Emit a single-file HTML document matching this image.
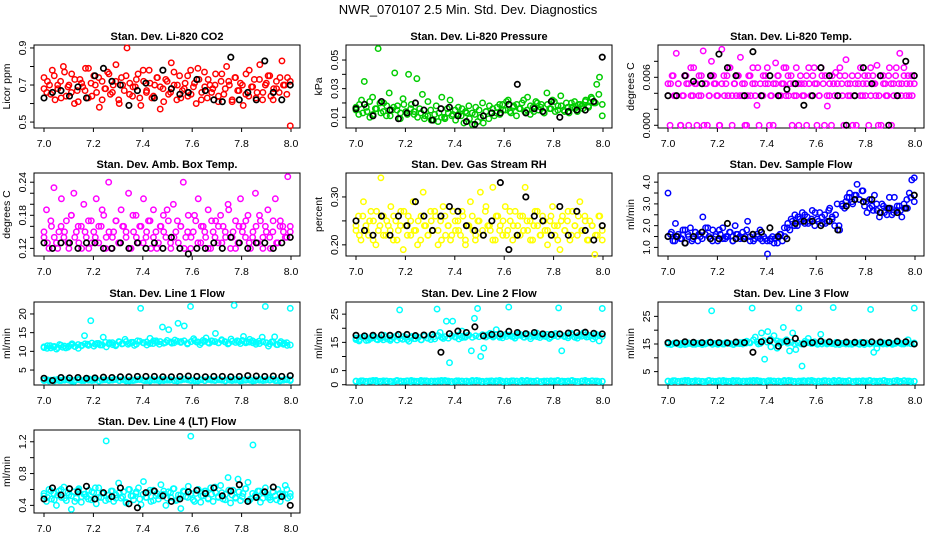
<!DOCTYPE html>
<html><head><meta charset="utf-8"><style>
html,body{margin:0;padding:0;background:#fff;}
svg{display:block;font-family:"Liberation Sans",Arial,sans-serif;}
</style></head><body>
<svg id="chart" width="936" height="540" viewBox="0 0 936 540">
<text x="468" y="14" text-anchor="middle" font-size="13">NWR_070107  2.5 Min. Std. Dev. Diagnostics</text>
</svg>
<script>
// ---- data ----
const xTicks = [7.0, 7.2, 7.4, 7.6, 7.8, 8.0];
const xTickLabels = ["7.0","7.2","7.4","7.6","7.8","8.0"];

const co2Color = [0.74,0.66,0.70,0.78,0.62,0.68,0.72,0.80,0.64,0.70,0.76,0.60,0.67,0.73,0.69,0.79,0.63,0.71,0.75,0.66,0.58,0.72,0.68,0.77,0.65,0.70,0.81,0.62,0.74,0.67,0.90,0.71,0.64,0.69,0.76,0.59,0.72,0.66,0.78,0.63,0.70,0.74,0.57,0.68,0.73,0.65,0.82,0.70,0.62,0.75,0.67,0.71,0.64,0.78,0.69,0.60,0.73,0.66,0.77,0.63,0.70,0.68,0.76,0.61,0.72,0.65,0.80,0.70,0.62,0.74,0.67,0.71,0.59,0.76,0.64,0.69,0.73,0.66,0.81,0.62,0.70,0.75,0.64,0.68,0.72,0.66,0.83,0.70,0.74,0.48];
const co2ColorB = [0.68,0.72,0.65,0.75,0.70,0.63,0.77,0.69,0.66,0.73,0.61,0.71,0.67,0.79,0.64,0.70,0.74,0.62,0.68,0.76,0.66,0.72,0.60,0.70,0.75,0.65,0.69,0.73,0.63,0.78,0.67,0.71,0.64,0.74,0.69,0.61,0.72,0.66,0.77,0.70,0.63,0.68,0.75,0.65,0.71,0.79,0.62,0.69,0.73,0.66,0.70,0.64,0.76,0.68,0.72,0.61,0.74,0.67,0.70,0.65,0.78,0.69,0.63,0.73,0.66,0.71,0.75,0.62,0.68,0.74,0.70,0.65,0.72];
const co2Black = [0.63,0.66,0.67,0.64,0.69,0.63,0.75,0.79,0.72,0.70,0.59,0.67,0.71,0.63,0.78,0.68,0.65,0.66,0.73,0.67,0.62,0.61,0.85,0.62,0.66,0.62,0.83,0.66,0.62,0.70];

const presColor = [0.017,0.012,0.022,0.035,0.014,0.010,0.024,0.016,0.058,0.013,0.020,0.011,0.027,0.015,0.041,0.018,0.009,0.023,0.014,0.040,0.019,0.012,0.037,0.016,0.026,0.011,0.021,0.015,0.008,0.018,0.013,0.024,0.010,0.016,0.022,0.012,0.008,0.017,0.011,0.006,0.013,0.009,0.005,0.012,0.007,0.010,0.006,0.014,0.009,0.013,0.011,0.017,0.012,0.019,0.015,0.022,0.013,0.018,0.011,0.016,0.020,0.014,0.024,0.012,0.017,0.021,0.015,0.019,0.013,0.027,0.016,0.022,0.014,0.018,0.025,0.015,0.020,0.013,0.017,0.021,0.014,0.019,0.016,0.022,0.018,0.024,0.020,0.033,0.038,0.011];
const presColorB = [0.015,0.019,0.013,0.017,0.021,0.012,0.016,0.020,0.014,0.018,0.011,0.017,0.015,0.013,0.019,0.012,0.016,0.014,0.010,0.013,0.009,0.011,0.008,0.012,0.007,0.010,0.009,0.013,0.011,0.015,0.012,0.016,0.014,0.018,0.013,0.017,0.015,0.020,0.014,0.018,0.016,0.013,0.019,0.015,0.021,0.014,0.017,0.019,0.016,0.022,0.015,0.018,0.014,0.020,0.017,0.013,0.019,0.016,0.021,0.015,0.018,0.014,0.017,0.020,0.016,0.019,0.018,0.021,0.017,0.023,0.020,0.026,0.019];
const presBlack = [0.016,0.019,0.011,0.021,0.015,0.009,0.013,0.020,0.015,0.008,0.016,0.017,0.011,0.007,0.005,0.011,0.013,0.013,0.019,0.033,0.013,0.016,0.014,0.021,0.010,0.014,0.015,0.015,0.021,0.052];

const tempColor = [0.0052,0.0000,0.0062,0.0037,0.0090,0.0052,0.0000,0.0037,0.0062,0.0052,0.0000,0.0072,0.0037,0.0052,0.0000,0.0062,0.0037,0.0093,0.0052,0.0000,0.0037,0.0080,0.0062,0.0052,0.0037,0.0000,0.0095,0.0062,0.0052,0.0037,0.0072,0.0000,0.0052,0.0037,0.0062,0.0085,0.0037,0.0052,0.0000,0.0062,0.0037,0.0072,0.0052,0.0025,0.0000,0.0037,0.0062,0.0052,0.0072,0.0000,0.0037,0.0052,0.0078,0.0062,0.0037,0.0052,0.0072,0.0037,0.0062,0.0052,0.0000,0.0037,0.0072,0.0052,0.0062,0.0037,0.0052,0.0000,0.0072,0.0037,0.0062,0.0052,0.0000,0.0037,0.0072,0.0052,0.0062,0.0024,0.0037,0.0000,0.0052,0.0066,0.0037,0.0062,0.0052,0.0000,0.0082,0.0037,0.0052,0.0062,0.0037,0.0000,0.0052,0.0072,0.0037,0.0062,0.0052,0.0000,0.0037,0.0062,0.0052,0.0075,0.0037,0.0000,0.0062,0.0052,0.0037,0.0072,0.0000,0.0052,0.0062,0.0037,0.0090,0.0052,0.0072,0.0037,0.0062,0.0052,0.0037,0.0062];
const tempColorB = [0.0037,0.0052,0.0062,0.0037,0.0052,0.0000,0.0037,0.0062,0.0052,0.0037,0.0072,0.0052,0.0037,0.0062,0.0000,0.0052,0.0037,0.0062,0.0052,0.0037,0.0000,0.0052,0.0037,0.0062,0.0072,0.0037,0.0052,0.0062,0.0037,0.0052,0.0000,0.0037,0.0062,0.0052,0.0037,0.0072,0.0052,0.0037,0.0062,0.0052,0.0037,0.0000,0.0052,0.0062,0.0037,0.0052,0.0072,0.0037,0.0062,0.0052,0.0037,0.0000,0.0052,0.0037,0.0062,0.0052,0.0037,0.0072,0.0052,0.0037,0.0062,0.0000,0.0037,0.0052,0.0062,0.0037,0.0052,0.0072,0.0037,0.0062,0.0052,0.0037,0.0000,0.0052,0.0062,0.0037,0.0052,0.0037,0.0062,0.0072,0.0052,0.0037,0.0000,0.0062,0.0052,0.0037,0.0062,0.0052,0.0037,0.0072,0.0052,0.0037,0.0062,0.0052,0.0037,0.0062,0.0052];
const tempBlack = [0.0037,0.0037,0.0062,0.0055,0.0052,0.0062,0.0089,0.0072,0.0062,0.0037,0.0092,0.0037,0.0062,0.0037,0.0045,0.0052,0.0025,0.0037,0.0072,0.0062,0.0037,0.0000,0.0037,0.0072,0.0052,0.0062,0.0000,0.0037,0.0080,0.0062];

const ambColor = [0.14,0.19,0.12,0.16,0.23,0.13,0.15,0.21,0.14,0.17,0.12,0.18,0.22,0.15,0.13,0.16,0.20,0.14,0.12,0.17,0.15,0.21,0.13,0.16,0.18,0.14,0.24,0.12,0.15,0.17,0.13,0.19,0.16,0.14,0.22,0.12,0.15,0.18,0.13,0.16,0.21,0.14,0.17,0.12,0.19,0.15,0.13,0.16,0.18,0.14,0.17,0.12,0.20,0.15,0.13,0.16,0.24,0.14,0.18,0.12,0.15,0.17,0.21,0.13,0.16,0.14,0.19,0.12,0.15,0.17,0.13,0.18,0.16,0.14,0.20,0.12,0.15,0.17,0.13,0.21,0.16,0.14,0.18,0.12,0.15,0.22,0.13,0.17,0.14,0.16,0.19,0.12,0.15,0.21,0.13,0.17,0.16,0.14,0.25,0.15];
const ambColorB = [0.15,0.13,0.17,0.14,0.12,0.16,0.15,0.13,0.18,0.14,0.16,0.12,0.15,0.17,0.13,0.14,0.16,0.19,0.12,0.15,0.14,0.17,0.13,0.16,0.15,0.12,0.18,0.14,0.16,0.13,0.15,0.17,0.14,0.12,0.16,0.15,0.19,0.13,0.14,0.17,0.16,0.12,0.15,0.14,0.18,0.13,0.16,0.15,0.12,0.17,0.14,0.16,0.13,0.15,0.19,0.14,0.12,0.16,0.15,0.17,0.13,0.14,0.16,0.18,0.12,0.15,0.14,0.17,0.13,0.16,0.15,0.14,0.16];
const ambBlack = [0.13,0.12,0.13,0.13,0.12,0.13,0.13,0.12,0.12,0.13,0.12,0.13,0.12,0.13,0.12,0.14,0.12,0.11,0.12,0.12,0.13,0.12,0.14,0.13,0.12,0.13,0.13,0.12,0.13,0.14];

const rhColor = [0.23,0.26,0.21,0.29,0.24,0.22,0.27,0.25,0.20,0.23,0.34,0.26,0.22,0.24,0.28,0.21,0.25,0.23,0.27,0.19,0.24,0.26,0.22,0.29,0.23,0.25,0.21,0.31,0.24,0.22,0.27,0.23,0.26,0.20,0.25,0.28,0.22,0.24,0.21,0.27,0.23,0.25,0.22,0.26,0.20,0.24,0.29,0.23,0.21,0.25,0.31,0.22,0.27,0.24,0.23,0.32,0.21,0.26,0.24,0.22,0.28,0.23,0.25,0.21,0.27,0.24,0.22,0.26,0.32,0.23,0.25,0.21,0.27,0.24,0.22,0.26,0.23,0.20,0.25,0.28,0.22,0.24,0.19,0.26,0.23,0.25,0.21,0.27,0.24,0.22,0.29,0.23,0.26,0.21,0.25,0.24,0.18,0.22,0.26,0.21];
const rhColorB = [0.24,0.22,0.26,0.23,0.25,0.21,0.27,0.24,0.22,0.25,0.23,0.26,0.21,0.24,0.27,0.22,0.25,0.23,0.20,0.26,0.24,0.22,0.25,0.27,0.23,0.21,0.26,0.24,0.22,0.25,0.23,0.27,0.21,0.24,0.26,0.22,0.25,0.23,0.28,0.24,0.21,0.26,0.23,0.25,0.22,0.27,0.24,0.22,0.26,0.23,0.25,0.21,0.24,0.27,0.22,0.25,0.23,0.26,0.24,0.21,0.25,0.23,0.27,0.22,0.24,0.26,0.23,0.25,0.21,0.24,0.22,0.26,0.23];
const rhBlack = [0.25,0.23,0.22,0.26,0.22,0.26,0.24,0.29,0.26,0.23,0.26,0.28,0.27,0.24,0.23,0.22,0.25,0.33,0.19,0.22,0.30,0.26,0.25,0.22,0.28,0.22,0.27,0.23,0.21,0.24];

const flowColor = [3.5,1.6,1.3,2.1,1.5,1.4,1.8,1.2,1.6,1.9,1.4,1.7,1.3,1.5,2.4,1.6,1.9,1.4,1.8,1.5,1.3,1.6,1.9,1.4,1.5,1.7,1.3,2.0,1.6,1.4,1.7,1.5,2.2,1.3,1.6,1.4,1.5,1.8,1.3,1.4,0.7,1.3,1.5,1.4,1.2,1.6,1.3,1.5,1.9,1.8,2.2,2.5,2.0,2.3,2.6,2.1,2.4,2.2,2.7,2.0,2.3,2.6,2.1,2.5,2.2,2.8,2.4,2.0,3.0,1.8,3.0,2.8,3.3,3.5,3.1,3.4,3.9,3.2,3.6,2.9,2.6,3.2,2.9,3.4,2.7,2.4,3.0,2.6,2.8,3.3,2.5,3.3,2.7,2.9,2.4,2.8,3.2,3.5,4.1,4.2];
const flowColorB = [1.5,1.7,1.3,1.6,1.4,1.8,1.5,1.3,1.7,1.6,1.4,1.9,1.5,1.3,1.6,1.8,1.4,1.5,1.7,1.3,1.6,1.5,1.4,1.8,1.5,1.3,1.6,1.4,1.5,1.3,1.4,1.2,1.5,1.6,1.9,2.1,2.3,2.0,2.4,2.2,2.5,2.1,2.3,2.6,2.2,2.4,2.1,2.7,2.3,2.5,2.0,2.9,3.1,3.3,3.0,3.4,3.2,3.6,3.1,2.8,2.7,3.0,2.6,2.9,2.5,2.8,2.6,2.9,2.7,3.0,2.8,3.3,3.1];
const flowBlack = [1.5,1.5,1.2,1.5,1.7,1.4,1.4,2.1,1.4,1.4,1.6,1.7,1.9,1.5,1.4,2.1,2.2,2.2,2.0,2.2,1.8,2.9,3.2,3.1,3.2,2.6,2.8,2.6,2.8,3.4];

const line1High = [11.0,10.8,11.5,11.2,10.6,11.8,11.1,10.9,11.4,12.0,11.3,10.8,11.6,14.2,11.9,18.2,11.4,12.1,11.7,13.8,11.2,12.3,11.8,11.5,12.6,12.0,13.2,11.9,12.4,11.6,12.8,21.5,12.3,11.7,13.5,12.1,12.8,11.9,16.5,12.4,15.8,12.2,13.0,17.5,12.6,16.8,12.0,22.0,13.4,12.5,11.8,12.9,13.6,12.2,12.7,14.8,12.3,13.1,12.6,12.0,13.3,22.3,12.8,12.1,14.0,12.6,13.2,12.3,11.9,12.7,13.8,22.0,11.4,12.5,13.9,11.8,12.6,12.2,11.6,21.5];
const line1HighB = [11.2,11.5,10.9,11.3,11.0,11.6,11.4,11.1,11.7,11.3,11.8,11.5,12.0,11.6,12.2,11.9,12.1,11.7,12.4,12.0,12.3,11.8,12.5,12.1,12.6,12.2,12.4,11.9,12.7,12.3,12.5,12.1,12.8,12.4,12.6,12.2,12.9,12.5,12.3,12.7,12.4,12.8,12.2,12.6,12.9,12.5,12.3,12.7,12.4,12.8,12.6,12.3,12.9,12.5,12.2,12.7,12.4,12.6,12.9,12.3,12.5,12.8,12.4,12.1,12.6,12.3,12.0,12.5,11.8,12.2,11.9,12.3,11.7];
const line1Low = [2.3,2.1,2.4,2.2,2.5,2.3,2.0,2.4,2.2,2.6,2.3,2.1,2.4,2.3,2.5,2.2,2.4,2.1,2.3,2.5,2.2,2.4,2.3,2.1,2.5,2.3,2.2,2.4,2.6,2.3,2.1,2.4,2.2,2.5,2.3,2.4,2.2,2.3,2.5,2.1,2.4,2.3,2.2,2.5,2.3,2.4,2.2,2.3,2.5,2.4];
const line1LowB = [2.2,2.4,2.3,2.1,2.5,2.2,2.3,2.4,2.1,2.3,2.5,2.2,2.4,2.3,2.2,2.5,2.1,2.3,2.4,2.2,2.3,2.5,2.2,2.4,2.1,2.3,2.2,2.4,2.5,2.3,2.2,2.1,2.4,2.3,2.5,2.2,2.3,2.4,2.2,2.1,2.3,2.5,2.4,2.2,2.3,2.1,2.4,2.2,2.5,2.3,2.2,2.4,2.3,2.1,2.5,2.2,2.3,2.4,2.2,2.3,2.5,2.1,2.4,2.3,2.2,2.4,2.3,2.5,2.2,2.1,2.3,2.4,2.2];
const line1Black = [2.8,2.2,3.0,2.9,3.0,2.8,2.9,3.1,3.0,3.2,3.2,3.3,3.3,3.3,3.2,3.2,3.3,3.4,3.3,3.2,3.3,3.3,3.2,3.3,3.5,3.4,3.3,3.4,3.3,3.5];

const line2High = [16.0,15.5,16.8,17.2,15.8,16.5,17.0,15.9,16.4,17.5,16.2,15.7,16.9,17.3,26.5,16.1,16.7,15.4,17.1,16.3,16.8,15.9,17.4,16.5,16.0,17.0,26.8,18.5,16.4,22.5,7.8,22.5,17.0,16.2,19.0,16.8,17.5,12.0,23.5,27.0,10.0,13.0,17.6,18.2,16.9,19.5,17.3,16.6,17.8,27.5,17.1,16.5,18.0,17.4,16.8,17.9,16.3,17.2,18.3,16.7,17.6,17.0,16.4,17.8,18.1,27.2,12.0,17.3,16.6,18.2,17.0,16.5,17.7,18.4,16.9,17.5,16.2,17.9,15.5,27.0];
const line2HighB = [16.5,16.0,16.8,15.7,16.3,17.0,16.1,16.6,15.9,16.9,16.2,16.7,15.8,16.4,17.1,16.0,16.6,16.3,16.9,15.9,17.2,16.5,17.6,16.2,17.4,16.8,17.0,16.5,17.3,16.9,17.5,16.7,17.1,17.6,16.8,17.3,17.0,17.7,16.9,17.4,17.2,17.8,16.8,17.5,17.1,17.6,17.0,17.3,17.8,16.9,17.4,17.1,17.7,17.0,17.5,17.2,17.8,16.9,17.4,17.1,17.6,17.0,17.3,17.7,16.8,17.4,17.2,17.6,17.0,17.3,16.9,17.5,17.1];
const line2Low = [1.2,1.4,1.1,1.3,1.5,1.2,1.3,1.1,1.4,1.2,1.3,1.5,1.2,1.1,1.4,1.3,1.2,1.5,1.3,1.1,1.4,1.2,1.3,1.2,1.5,1.1,1.3,1.4,1.2,1.3,1.1,1.4,1.2,1.5,1.3,1.2,1.4,1.1,1.3,1.2,1.4,1.3,1.2,1.5,1.1,1.3,1.2,1.4,1.3,1.2];
const line2LowB = [1.3,1.1,1.4,1.2,1.3,1.5,1.1,1.2,1.4,1.3,1.2,1.1,1.5,1.3,1.2,1.4,1.1,1.3,1.2,1.5,1.4,1.2,1.1,1.3,1.4,1.2,1.5,1.3,1.1,1.2,1.4,1.3,1.2,1.1,1.5,1.3,1.4,1.2,1.1,1.3,1.2,1.4,1.5,1.1,1.3,1.2,1.4,1.3,1.1,1.2,1.5,1.3,1.2,1.4,1.1,1.3,1.2,1.4,1.3,1.5,1.1,1.2,1.3,1.4,1.2,1.1,1.3,1.5,1.2,1.4,1.3,1.1,1.2];
const line2Black = [17.5,17.3,17.5,17.6,17.5,17.8,17.8,17.4,17.6,17.8,11.5,18.1,19.0,18.5,20.5,17.3,17.8,18.0,18.9,18.5,18.1,18.5,18.0,17.8,18.0,18.3,18.5,18.6,18.2,18.0];

const line3High = [15.0,14.8,15.3,15.1,14.7,15.4,15.0,15.2,14.9,15.3,15.1,14.8,15.0,15.5,27.0,15.2,14.9,15.3,15.0,15.4,15.1,14.8,15.2,15.5,15.0,15.3,15.6,28.0,17.5,15.0,19.0,9.5,19.5,14.0,18.0,13.5,15.8,21.0,16.5,12.5,19.0,13.0,28.0,7.0,16.0,17.0,15.2,15.8,14.9,18.5,15.5,15.0,15.3,28.2,15.6,14.8,15.2,15.4,15.0,14.9,15.3,15.1,15.6,14.8,15.2,27.5,12.0,13.5,15.4,15.0,15.3,15.6,14.9,15.2,15.5,15.0,15.3,16.5,15.1,28.0];
const line3HighB = [15.1,14.9,15.3,15.0,15.2,14.8,15.4,15.1,14.9,15.3,15.0,15.2,15.4,14.9,15.1,15.3,15.0,15.5,15.2,14.9,15.3,15.1,15.6,16.0,15.4,16.5,15.8,15.2,16.2,15.7,16.8,15.5,16.1,15.4,15.9,15.3,15.6,15.1,15.4,15.0,15.3,15.5,15.1,15.4,15.2,15.0,15.3,15.5,15.1,14.9,15.4,15.2,15.0,15.3,15.1,15.5,14.9,15.2,15.4,15.0,15.3,15.1,15.2,15.4,15.0,15.3,15.1,15.5,15.2,15.0,15.3,15.1,15.4];
const line3Low = [1.5,1.7,1.4,1.6,1.8,1.5,1.6,1.4,1.7,1.5,1.6,1.8,1.5,1.4,1.7,1.6,1.5,1.8,1.6,1.4,1.7,1.5,1.6,1.5,1.8,1.4,1.6,1.7,1.5,1.6,1.4,1.7,1.5,1.8,1.6,1.5,1.7,1.4,1.6,1.5,1.7,1.6,1.5,1.8,1.4,1.6,1.5,1.7,1.6,1.5];
const line3LowB = [1.6,1.4,1.7,1.5,1.6,1.8,1.4,1.5,1.7,1.6,1.5,1.4,1.8,1.6,1.5,1.7,1.4,1.6,1.5,1.8,1.7,1.5,1.4,1.6,1.7,1.5,1.8,1.6,1.4,1.5,1.7,1.6,1.5,1.4,1.8,1.6,1.7,1.5,1.4,1.6,1.5,1.7,1.8,1.4,1.6,1.5,1.7,1.6,1.4,1.5,1.8,1.6,1.5,1.7,1.4,1.6,1.5,1.7,1.6,1.8,1.4,1.5,1.6,1.7,1.5,1.4,1.6,1.8,1.5,1.7,1.6,1.4,1.5];
const line3Black = [15.5,15.4,15.8,15.6,15.5,15.6,15.5,15.4,15.7,15.5,12.0,15.8,16.2,14.2,16.0,17.0,15.0,15.5,16.0,15.8,15.5,15.7,15.6,15.5,15.8,15.7,15.5,16.0,15.8,15.0];

const line4Color = [0.52,0.45,0.60,0.48,0.55,0.40,0.58,0.50,0.63,0.46,0.53,0.35,0.57,0.49,0.61,0.44,0.54,0.51,0.59,0.47,0.56,0.42,0.62,0.50,0.55,1.21,0.48,0.58,0.45,0.53,0.68,0.49,0.57,0.43,0.60,0.52,0.47,0.55,0.62,0.41,0.70,0.50,0.56,0.45,0.59,0.52,0.48,0.66,0.54,0.40,0.57,0.50,0.61,0.46,0.53,0.36,0.58,0.51,0.64,1.27,0.47,0.55,0.60,0.44,0.52,0.58,0.49,0.62,0.45,0.56,0.51,0.65,0.48,0.54,0.75,0.43,0.59,0.50,0.73,0.46,0.55,0.61,0.69,0.48,1.16,0.53,0.58,0.44,0.56,0.62,0.50,0.47,0.57,0.52,0.60,0.45,0.54,0.65,0.49,0.55];
const line4ColorB = [0.55,0.50,0.58,0.47,0.53,0.60,0.49,0.56,0.52,0.45,0.59,0.51,0.54,0.48,0.57,0.62,0.50,0.55,0.46,0.53,0.58,0.49,0.56,0.51,0.44,0.60,0.52,0.57,0.48,0.54,0.50,0.59,0.46,0.55,0.52,0.58,0.49,0.56,0.61,0.47,0.53,0.57,0.50,0.55,0.45,0.60,0.52,0.58,0.48,0.54,0.63,0.50,0.56,0.47,0.59,0.53,0.49,0.57,0.51,0.61,0.46,0.55,0.52,0.58,0.49,0.54,0.50,0.57,0.47,0.55,0.52,0.60,0.51];
const line4Black = [0.48,0.62,0.53,0.61,0.57,0.64,0.48,0.56,0.51,0.62,0.42,0.37,0.56,0.58,0.52,0.45,0.48,0.57,0.59,0.55,0.62,0.52,0.58,0.66,0.45,0.50,0.57,0.63,0.51,0.40];

// ---- drawing ----
const NS = "http://www.w3.org/2000/svg";
const svg = document.getElementById("chart");
function mk(tag, attrs, parent) {
  const el = document.createElementNS(NS, tag);
  for (const k in attrs) el.setAttribute(k, attrs[k]);
  (parent || svg).appendChild(el);
  return el;
}
const colLefts = [34, 346, 658];
const rowTops = [45, 173, 302, 430];
const W = 266, H = 83;

const panels = [
  {key:"co2", title:"Stan. Dev. Li-820 CO2", ylab:"Licor ppm", col:0,row:0, ymin:0.468, ymax:0.916, ticks:[0.5,0.6,0.7,0.8,0.9], labels:{"0.5":"0.5","0.7":"0.7","0.9":"0.9"}, series:[[co2Color,"#ff0000"],[co2ColorB,"#ff0000"],[co2Black,"#000"]]},
  {key:"pressure", title:"Stan. Dev. Li-820 Pressure", ylab:"kPa", col:1,row:0, ymin:0.0025, ymax:0.0605, ticks:[0.01,0.02,0.03,0.04,0.05], labels:{"0.01":"0.01","0.03":"0.03","0.05":"0.05"}, series:[[presColor,"#00cc00"],[presColorB,"#00cc00"],[presBlack,"#000"]]},
  {key:"temp", title:"Stan. Dev. Li-820 Temp.", ylab:"degrees C", col:2,row:0, ymin:-0.00034, ymax:0.01004, ticks:[0,0.002,0.004,0.006,0.008], labels:{"0":"0.000","0.006":"0.006"}, series:[[tempColor,"#ff00ff"],[tempColorB,"#ff00ff"],[tempBlack,"#000"]]},
  {key:"ambbox", title:"Stan. Dev. Amb. Box Temp.", ylab:"degrees C", col:0,row:1, ymin:0.1062, ymax:0.2567, ticks:[0.12,0.14,0.16,0.18,0.20,0.22,0.24], labels:{"0.12":"0.12","0.18":"0.18","0.24":"0.24"}, series:[[ambColor,"#ff00ff"],[ambColorB,"#ff00ff"],[ambBlack,"#000"]]},
  {key:"rh", title:"Stan. Dev. Gas Stream RH", ylab:"percent", col:1,row:1, ymin:0.1767, ymax:0.350, ticks:[0.20,0.25,0.30], labels:{"0.2":"0.20","0.3":"0.30"}, series:[[rhColor,"#ffff00"],[rhColorB,"#ffff00"],[rhBlack,"#000"]]},
  {key:"sampleflow", title:"Stan. Dev. Sample Flow", ylab:"ml/min", col:2,row:1, ymin:0.605, ymax:4.42, ticks:[1,1.5,2,2.5,3,3.5,4], labels:{"1":"1.0","2":"2.0","3":"3.0","4":"4.0"}, series:[[flowColor,"#0000ff"],[flowColorB,"#0000ff"],[flowBlack,"#000"]]},
  {key:"line1", title:"Stan. Dev. Line 1 Flow", ylab:"ml/min", col:0,row:2, ymin:1.0, ymax:23.2, ticks:[5,10,15,20], labels:{"5":"5","10":"10","15":"15","20":"20"}, series:[[line1High,"#00ffff"],[line1HighB,"#00ffff"],[line1Low,"#00ffff"],[line1LowB,"#00ffff"],[line1Black,"#000"]]},
  {key:"line2", title:"Stan. Dev. Line 2 Flow", ylab:"ml/min", col:1,row:2, ymin:-0.1, ymax:29.3, ticks:[0,5,10,15,20,25], labels:{"0":"0","5":"5","15":"15","25":"25"}, series:[[line2High,"#00ffff"],[line2HighB,"#00ffff"],[line2Low,"#00ffff"],[line2LowB,"#00ffff"],[line2Black,"#000"]]},
  {key:"line3", title:"Stan. Dev. Line 3 Flow", ylab:"ml/min", col:2,row:2, ymin:0.16, ymax:30.2, ticks:[5,10,15,20,25], labels:{"5":"5","15":"15","25":"25"}, series:[[line3High,"#00ffff"],[line3HighB,"#00ffff"],[line3Low,"#00ffff"],[line3LowB,"#00ffff"],[line3Black,"#000"]]},
  {key:"line4", title:"Stan. Dev. Line 4 (LT) Flow", ylab:"ml/min", col:0,row:3, ymin:0.304, ymax:1.348, ticks:[0.4,0.6,0.8,1.0,1.2], labels:{"0.4":"0.4","0.8":"0.8","1.2":"1.2"}, series:[[line4Color,"#00ffff"],[line4ColorB,"#00ffff"],[line4Black,"#000"]]}
];

panels.forEach(p => {
  const L = colLefts[p.col], T = rowTops[p.row];
  const x7 = L + 10, pxPer = 247;
  const xs = v => x7 + (v - 7) * pxPer;
  const ys = v => T + H - (v - p.ymin) / (p.ymax - p.ymin) * H;
  const g = mk("g", {});
  
  
  const title = mk("text", {x: L + W/2, y: T - 5, "text-anchor":"middle", "font-size":"11", "font-weight":"bold"}, g);
  title.textContent = p.title;
  
  
  const box = mk("rect", {x:L, y:T, width:W, height:H, fill:"none", stroke:"#000", "stroke-width":"1"}, g);
  
  
  xTicks.forEach((t, i) => {
    const x = xs(t);
    mk("line", {x1:x, y1:T+H, x2:x, y2:T+H+4, stroke:"#000"}, g);
    const lb = mk("text", {x:x, y:T+H+19, "text-anchor":"middle", "font-size":"10.5"}, g);
    lb.textContent = xTickLabels[i];
    
    
  });
  p.ticks.forEach(t => {
    const y = ys(t);
    mk("line", {x1:L-4, y1:y, x2:L, y2:y, stroke:"#000"}, g);
    const key = String(t);
    if (p.labels[key] !== undefined) {
      const lb = mk("text", {x:0, y:0, "text-anchor":"middle", "font-size":"10.5", transform:`translate(${L-8},${y}) rotate(-90)`}, g);
      lb.textContent = p.labels[key];
      
      
    }
  });
  const yl = mk("text", {x:0, y:0, "text-anchor":"middle", "font-size":"10.5", transform:`translate(${L-24},${T+H/2}) rotate(-90)`}, g);
  yl.textContent = p.ylab;
  
  
  p.series.forEach(([vals, color]) => {
    const isBlack = color === "#000";
    const sg = mk("g", {fill:"none", stroke:color, "stroke-width": isBlack ? "1.7" : "1.5"}, g);
    
    
    const n = vals.length;
    vals.forEach((v, i) => {
      const t = 7 + i / (n - 1) * 0.997;
      const c = mk("circle", {cx: xs(t), cy: ys(v), r: 2.7}, sg);
      
      
    });
  });
});
</script>
</body></html>
